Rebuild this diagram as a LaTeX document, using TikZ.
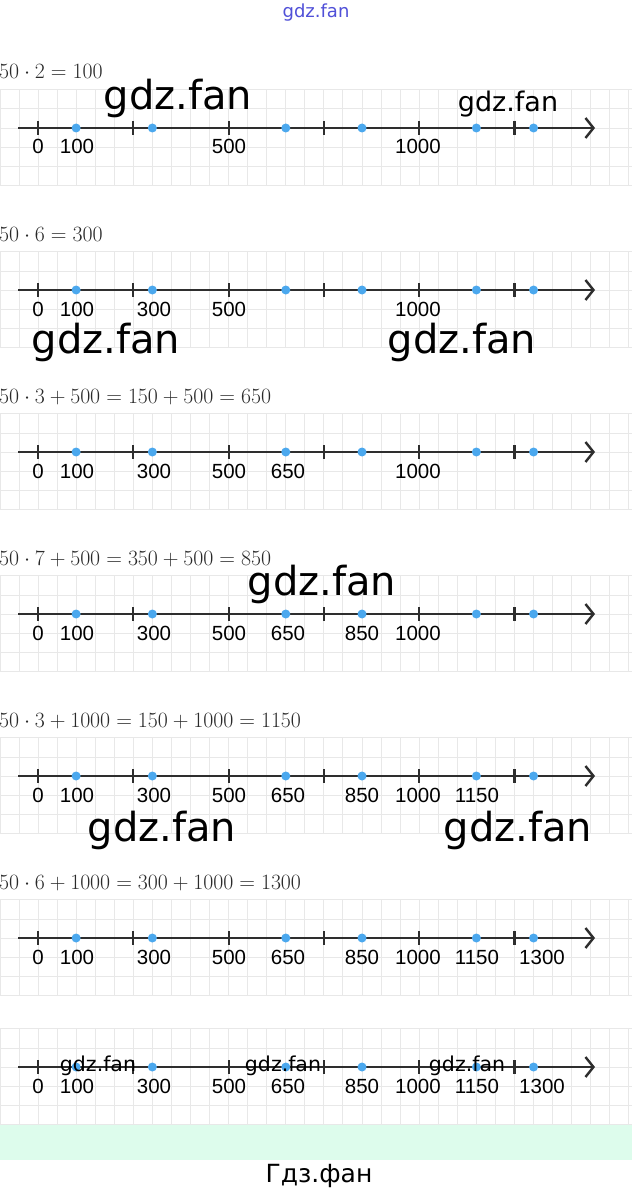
\RequirePackage{fix-cm}
\documentclass[tikz,border=0pt]{standalone}
\usepackage{fontspec}
\setsansfont{Liberation Sans}
\newfontfamily\wmfont{DejaVu Sans}
\usetikzlibrary{arrows.meta}
\definecolor{gridgrey}{HTML}{E8E8E8}
\definecolor{axisdark}{HTML}{2E2E2E}
\definecolor{dotblue}{HTML}{4BA8EE}
\definecolor{mint}{HTML}{DDFCEC}
\definecolor{wmblue}{HTML}{5050D8}
\definecolor{formgrey}{HTML}{2A2A2A}
\tikzset{
  gridline/.style={draw=gridgrey, line width=0.9pt},
  axisline/.style={line width=2.6pt, axisdark,
    -{Straight Barb[length=8pt, width=20pt, line width=2.4pt]}},
  tickmark/.style={line width=2.2pt, axisdark},
  dotmark/.style={circle, fill=dotblue, inner sep=0pt, minimum size=9pt},
  numlabel/.style={anchor=base, inner sep=0pt, font=\sffamily\fontsize{20.5}{21}\selectfont},
  formula/.style={anchor=base west, inner sep=0pt, text=formgrey, font=\fontsize{21.8}{23}\selectfont},
  wmbig/.style={anchor=base, inner sep=0pt, font=\wmfont\fontsize{40}{40}\selectfont},
  wmmid/.style={anchor=base, inner sep=0pt, font=\wmfont\fontsize{27}{27}\selectfont},
  wmsmall/.style={anchor=base, inner sep=0pt, font=\wmfont\fontsize{20.5}{21}\selectfont},
}
% one number line: name, y of the axis, labels as value/x
\newcommand{\drawaxis}[3]{%
  \foreach \k in {0,...,5}
    \draw[gridline] (0,#2-38.1+19.05*\k) -- (632,#2-38.1+19.05*\k);
  \foreach \k in {0,...,33}
    \draw[gridline] (19.05*\k,#2-38.1) -- (19.05*\k,#2+57.15);
  \coordinate (#1-start) at (18,#2);
  \coordinate (#1-end) at (595,#2);
  \draw[axisline] (#1-start) -- (#1-end);
  \foreach \v in {0,250,...,1250}{
    \pgfmathsetmacro{\xv}{38+0.3812*\v}
    \draw[tickmark] (\xv,#2-7) -- (\xv,#2+7);
  }
  \foreach \v in {100,300,650,850,1150,1300}{
    \pgfmathsetmacro{\xv}{38+0.3812*\v}
    \node[dotmark] (#1-d\v) at (\xv,#2) {};
  }
  \foreach \v/\xl in {#3}{
    \node[numlabel] (#1-l\v) at (\xl,#2+26) {\v};
  }
}

\begin{document}
\begin{tikzpicture}[x=1pt, y=-1pt]
\useasboundingbox (0,0) rectangle (632,1193);
\fill[white] (0,0) rectangle (632,1193);

\node[anchor=base, inner sep=0pt, text=wmblue, font=\wmfont\fontsize{18}{18}\selectfont] (site) at (316,18) {gdz.fan};

% the six tasks
\node[formula] (f1) at (-1,79) {$50\cdot 2=100$};
\drawaxis{a1}{128}{0/38,100/77,500/229,1000/418}

\node[formula] (f2) at (-1,241) {$50\cdot 6=300$};
\drawaxis{a2}{290}{0/38,100/77,300/154,500/229,1000/418}

\node[formula] (f3) at (-1,403) {$50\cdot 3+500=150+500=650$};
\drawaxis{a3}{452}{0/38,100/77,300/154,500/229,650/288,1000/418}

\node[formula] (f4) at (-1,565) {$50\cdot 7+500=350+500=850$};
\drawaxis{a4}{614}{0/38,100/77,300/154,500/229,650/288,850/362,1000/418}

\node[formula] (f5) at (-1,727) {$50\cdot 3+1000=150+1000=1150$};
\drawaxis{a5}{776}{0/38,100/77,300/154,500/229,650/288,850/362,1000/418,1150/477}

\node[formula] (f6) at (-1,889) {$50\cdot 6+1000=300+1000=1300$};
\drawaxis{a6}{938}{0/38,100/77,300/154,500/229,650/288,850/362,1000/418,1150/477,1300/542}

\drawaxis{a7}{1067}{0/38,100/77,300/154,500/229,650/288,850/362,1000/418,1150/477,1300/542}

% watermarks
\node[wmbig] (wm1) at (178,110) {gdz.fan};
\node[wmmid] (wm2) at (508,112) {gdz.fan};
\node[wmbig] (wm3) at (106,353) {gdz.fan};
\node[wmbig] (wm4) at (462,353) {gdz.fan};
\node[wmbig] (wm5) at (322,595) {gdz.fan};
\node[wmbig] (wm6) at (162,841) {gdz.fan};
\node[wmbig] (wm7) at (518,841) {gdz.fan};
\node[wmsmall] (wm8) at (98,1071) {gdz.fan};
\node[wmsmall] (wm9) at (283,1071) {gdz.fan};
\node[wmsmall] (wm10) at (467,1071) {gdz.fan};

% footer
\fill[mint] (0,1125) rectangle (632,1160);
\node[anchor=base, inner sep=0pt, font=\wmfont\fontsize{25}{25}\selectfont] (foot) at (319,1182) {Гдз.фан};
\end{tikzpicture}
\end{document}
